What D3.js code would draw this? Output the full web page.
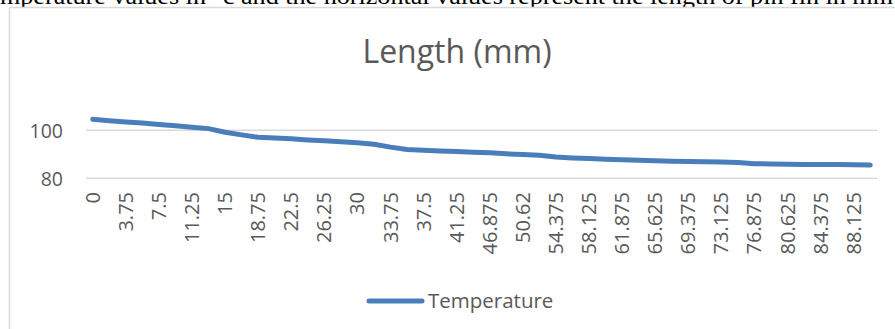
<!DOCTYPE html>
<html>
<head>
<meta charset="utf-8">
<script src="https://cdn.jsdelivr.net/npm/d3@7"></script>
<style>
  html, body { margin: 0; padding: 0; background: #fff; overflow: hidden; }
  svg { display: block; }
</style>
</head>
<body>
<svg id="chart" width="895" height="329"></svg>
<script>
// Pin fin length along the fin (mm) and the temperature at each station
const lengths = [
  "0", "1.875", "3.75", "5.625", "7.5", "9.375", "11.25", "13.125",
  "15", "16.875", "18.75", "20.625", "22.5", "24.375", "26.25", "28.125",
  "30", "31.875", "33.75", "35.625", "37.5", "39.375", "41.25", "43.125",
  "46.875", "48.75", "50.62", "52.5", "54.375", "56.25", "58.125", "60",
  "61.875", "63.75", "65.625", "67.5", "69.375", "71.25", "73.125", "75",
  "76.875", "78.75", "80.625", "82.5", "84.375", "86.25", "88.125", "90"
];
const temperature = [
  104.6, 104.0, 103.5, 103.0, 102.4, 101.9, 101.3, 100.7,
  99.2, 98.1, 97.1, 96.8, 96.5, 96.0, 95.6, 95.2,
  94.8, 94.2, 93.0, 92.0, 91.7, 91.4, 91.2, 90.9,
  90.6, 90.2, 89.9, 89.6, 88.9, 88.5, 88.2, 87.9,
  87.7, 87.5, 87.3, 87.1, 87.0, 86.9, 86.8, 86.6,
  86.1, 86.0, 85.9, 85.8, 85.7, 85.7, 85.6, 85.5
];
const yTicks = [80, 100];
const seriesName = "Temperature";
const chartTitle = "Length (mm)";
const captionText = "mperature values in \u00B0c and the horizontal values represent the length of pin fin in mm";

const svg = d3.select("#chart");
const lineColor = "#4a7ebb";
const textColor = "#595959";
const gridColor = "#d9d9d9";
const font = "'Open Sans', 'Noto Sans', sans-serif";

// Caption line of the surrounding document, clipped at the top edge
svg.append("text")
  .attr("x", 0).attr("y", 4)
  .attr("font-family", "'Liberation Serif', 'Times New Roman', serif")
  .attr("font-size", 23)
  .attr("fill", "#000")
  .attr("textLength", 893)
  .attr("lengthAdjust", "spacingAndGlyphs")
  .text(captionText);

// Chart frame
svg.append("rect")
  .attr("x", 9.5).attr("y", 7.5)
  .attr("width", 900).attr("height", 340)
  .attr("fill", "#fff")
  .attr("stroke", gridColor)
  .attr("stroke-width", 1.5);

// Title
svg.append("text")
  .attr("x", 457).attr("y", 63)
  .attr("text-anchor", "middle")
  .attr("font-family", font)
  .attr("font-size", 32)
  .attr("fill", textColor)
  .text(chartTitle);

const x = d3.scaleBand().domain(lengths).range([84.5, 878.5]);
const y = d3.scaleLinear().domain([80, 100]).range([178.3, 130.3]);
const cx = d => x(d) + x.bandwidth() / 2;

// Horizontal gridlines
svg.append("g")
  .selectAll("line")
  .data(yTicks)
  .join("line")
  .attr("x1", 86).attr("x2", 877)
  .attr("y1", d => y(d)).attr("y2", d => y(d))
  .attr("stroke", gridColor)
  .attr("stroke-width", 1.6);

// Y axis labels
const yAxis = d3.axisLeft(y).tickValues(yTicks).tickSize(0).tickPadding(0);
const yg = svg.append("g").attr("transform", "translate(63,0)").call(yAxis);
yg.select(".domain").remove();
yg.selectAll("text")
  .attr("font-family", font)
  .attr("font-size", 19.5)
  .attr("fill", textColor)
  .attr("dy", "0.35em");

// X axis labels, every other category, rotated
const xAxis = d3.axisBottom(x)
  .tickValues(lengths.filter((d, i) => i % 2 === 0))
  .tickSize(0).tickPadding(0);
const xg = svg.append("g").attr("transform", "translate(0,192)").call(xAxis);
xg.select(".domain").remove();
xg.selectAll("text")
  .attr("font-family", font)
  .attr("font-size", 20)
  .attr("fill", textColor)
  .attr("text-anchor", "end")
  .attr("transform", "rotate(-90)")
  .attr("x", 0)
  .attr("y", 0)
  .attr("dy", "0.35em");

// Temperature line
const line = d3.line()
  .x((d, i) => cx(lengths[i]))
  .y(d => y(d));
svg.append("path")
  .datum(temperature)
  .attr("d", line)
  .attr("fill", "none")
  .attr("stroke", lineColor)
  .attr("stroke-width", 5)
  .attr("stroke-linejoin", "round")
  .attr("stroke-linecap", "round");

// Legend
const lg = svg.append("g").attr("transform", "translate(0,301)");
lg.append("line")
  .attr("x1", 369).attr("x2", 422)
  .attr("y1", 0).attr("y2", 0)
  .attr("stroke", lineColor)
  .attr("stroke-width", 5)
  .attr("stroke-linecap", "round");
lg.append("text")
  .attr("x", 428).attr("y", 0)
  .attr("dy", "0.35em")
  .attr("font-family", font)
  .attr("font-size", 20.5)
  .attr("fill", textColor)
  .text(seriesName);
</script>
</body>
</html>
